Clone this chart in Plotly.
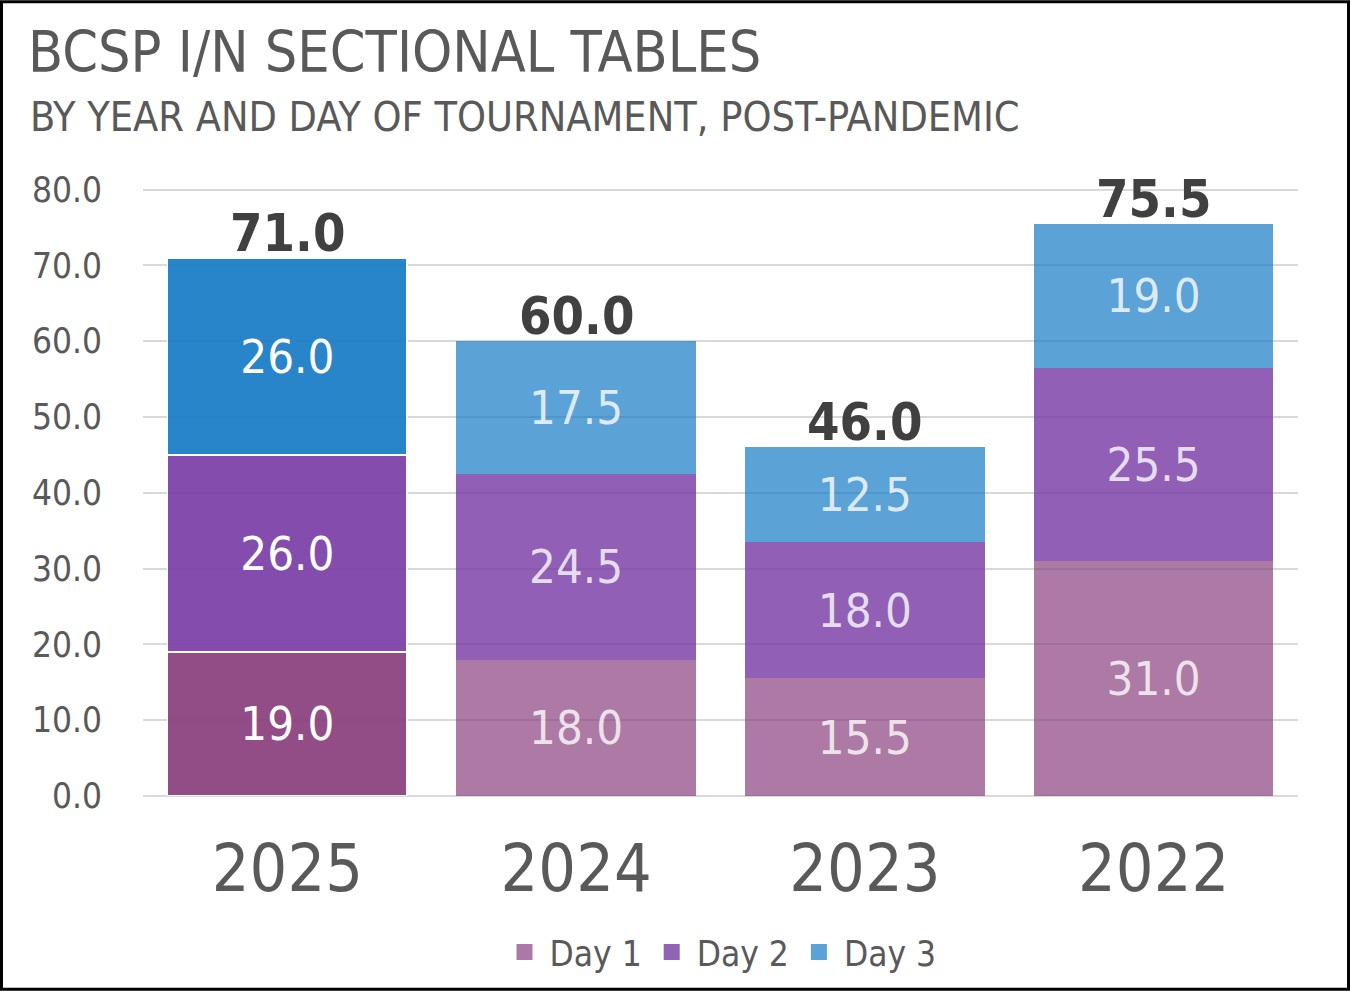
import plotly.graph_objects as go

years = ["2025", "2024", "2023", "2022"]
day1 = [19.0, 18.0, 15.5, 31.0]
day2 = [26.0, 24.5, 18.0, 25.5]
day3 = [26.0, 17.5, 12.5, 19.0]
totals = [a + b + c for a, b, c in zip(day1, day2, day3)]

# colours: current year solid-ish, earlier years faded
day1_cols = ["rgba(134,58,122,0.9)"] + ["rgba(134,58,122,0.68)"] * 3
day2_cols = ["rgba(118,56,164,0.9)"] + ["rgba(118,56,164,0.8)"] * 3
day3_cols = ["rgba(18,120,196,0.9)"] + ["rgba(18,120,196,0.69)"] * 3
legend_cols = ["#AD78A7", "#9163B6", "#5BA3D7"]
txt_cols = ["#FFFFFF"] + ["rgba(255,255,255,0.8)"] * 3
line_w = [1.5, 0, 0, 0]

FONT = "DejaVu Sans Condensed, Liberation Sans Narrow, sans-serif"
GREY = "#595959"

fig = go.Figure()
for name, vals, cols in [("Day 1", day1, day1_cols),
                         ("Day 2", day2, day2_cols),
                         ("Day 3", day3, day3_cols)]:
    fig.add_trace(go.Bar(
        x=years, y=vals, name=name, showlegend=False,
        marker=dict(color=cols, line=dict(color="white", width=line_w)),
        text=[f"{v:.1f}" for v in vals],
        textposition="inside", insidetextanchor="middle",
        textfont=dict(size=47, color=txt_cols, family=FONT),
        hoverinfo="skip",
    ))

# legend swatches with the faded colours
for name, lc in zip(["Day 1", "Day 2", "Day 3"], legend_cols):
    fig.add_trace(go.Scatter(x=[None], y=[None], name=name, mode="markers",
                             marker=dict(symbol="square", size=20, color=lc)))

# totals above each bar (category index, since the labels look numeric)
annots = []
for i, t in enumerate(totals):
    annots.append(dict(x=i, y=t, text=f"<b>{t:.1f}</b>", showarrow=False,
                       xanchor="center", yanchor="bottom", yshift=-7,
                       font=dict(size=52, color="#404040", family=FONT)))

annots.append(dict(text="BY YEAR AND DAY OF TOURNAMENT, POST-PANDEMIC",
                   xref="paper", yref="paper", x=-115 / 1155, y=(797 - 118) / 608,
                   xanchor="left", yanchor="middle", showarrow=False,
                   font=dict(size=41, color=GREY, family=FONT)))

fig.update_layout(
    barmode="stack",
    bargap=0.17,
    width=1350, height=992,
    margin=dict(l=143, r=52, t=188, b=195),
    paper_bgcolor="white", plot_bgcolor="white",
    font=dict(family=FONT, color=GREY),
    title=dict(text="BCSP I/N SECTIONAL TABLES", x=28 / 1350, xanchor="left",
               y=1 - 52 / 992, yanchor="middle",
               font=dict(size=57, color=GREY, family=FONT)),
    legend=dict(orientation="h", x=0.5, xanchor="center", y=-0.255, yanchor="middle",
                font=dict(size=35, color=GREY, family=FONT), traceorder="normal",
                itemsizing="trace", itemwidth=40),
    xaxis=dict(type="category", categoryorder="array", categoryarray=years,
               range=[-0.5, len(years) - 0.5],
               tickfont=dict(size=66, color=GREY, family=FONT), showgrid=False,
               showline=False, ticks="", ticklabelstandoff=28),
    yaxis=dict(range=[0, 80.2], dtick=10, tickformat=".1f",
               tickfont=dict(size=35, color=GREY, family=FONT),
               gridcolor="#D9D9D9", gridwidth=2, zeroline=True,
               zerolinecolor="#D9D9D9", zerolinewidth=2, ticklabelstandoff=40),
    annotations=annots,
    shapes=[dict(type="rect", xref="paper", yref="paper",
                 x0=(1.5 - 143) / 1155, x1=(1348.5 - 143) / 1155,
                 y0=(797 - 990.5) / 609, y1=(797 - 1.5) / 609,
                 line=dict(color="black", width=3), layer="above")],
)

fig.write_html("out.html", config={"displayModeBar": False},
               post_script="document.body.style.margin='0';document.body.style.overflow='hidden';")
